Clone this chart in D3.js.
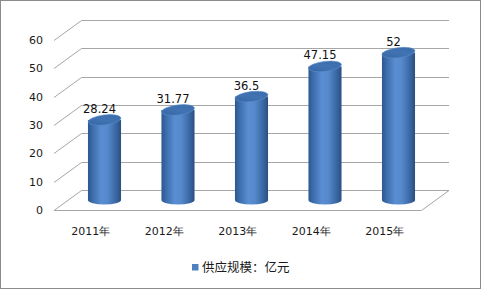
<!DOCTYPE html>
<html><head><meta charset="utf-8">
<script src="https://cdn.jsdelivr.net/npm/d3@7"></script>
<style>html,body{margin:0;padding:0;background:#fff}svg{display:block}</style>
</head><body>
<svg id="c" width="482" height="291"></svg>
<script>
const categories = ["2011年","2012年","2013年","2014年","2015年"];
const values = [28.24, 31.77, 36.5, 47.15, 52];
const valueLabels = ["28.24","31.77","36.5","47.15","52"];
const yTicks = [0,10,20,30,40,50,60];
const seriesName = "供应规模：亿元";

const svg = d3.select("#c");
const font = "'DejaVu Sans', Verdana, sans-serif";
const cjk = "'Noto Sans CJK SC', 'DejaVu Sans', sans-serif";

// frame
svg.append("rect").attr("x",0.5).attr("y",0.5).attr("width",480).attr("height",288)
  .attr("fill","#fff").attr("stroke","#8c8c8c").attr("stroke-width",1);

// 3D geometry: front plane, depth offset
const depth = {dx: 27.5, dy: -20};
const y = d3.scaleLinear().domain([0,60]).range([210, 40]);
const x = d3.scaleBand().domain(categories).range([54, 421.5]).paddingInner(0.55).paddingOuter(0.275);
const xFront = d3.scaleBand().domain(categories).range([54, 421.5]);

const grid = svg.append("g").attr("stroke","#a6a6a6").attr("stroke-width",1).attr("fill","none");
const x0 = 54, x1 = 421.5;
yTicks.forEach(t => {
  const yy = Math.round(y(t)) + 0.5;
  grid.append("line").attr("x1",x0).attr("y1",yy).attr("x2",x0+depth.dx).attr("y2",yy+depth.dy);
  grid.append("line").attr("x1",x0+depth.dx).attr("y1",yy+depth.dy).attr("x2",x1+depth.dx).attr("y2",yy+depth.dy);
});
grid.append("line").attr("x1",x0).attr("y1",Math.round(y(0))+0.5).attr("x2",x1).attr("y2",Math.round(y(0))+0.5);
grid.append("line").attr("x1",x1).attr("y1",Math.round(y(0))+0.5).attr("x2",x1+depth.dx).attr("y2",Math.round(y(0))+0.5+depth.dy);

// y tick labels
svg.append("g").selectAll("text").data(yTicks).join("text")
  .attr("x",43).attr("y",d=>y(d)+4).attr("text-anchor","end")
  .attr("font-family",font).attr("font-size",11).attr("fill","#1a1a1a")
  .text(d=>d);

// gradients
const defs = svg.append("defs");
const g1 = defs.append("linearGradient").attr("id","body").attr("x1","0").attr("x2","1").attr("y1","0").attr("y2","0");
[[0,"#2c5690"],[0.12,"#3a6aa8"],[0.4,"#5a8ed2"],[0.6,"#5589cb"],[0.85,"#3a67a3"],[1,"#2a4f82"]]
  .forEach(([o,c])=>g1.append("stop").attr("offset",o).attr("stop-color",c));
const g2 = defs.append("linearGradient").attr("id","top").attr("x1","0").attr("x2","1").attr("y1","1").attr("y2","0");
[[0,"#3564a0"],[0.5,"#4173b3"],[1,"#3a6aa6"]]
  .forEach(([o,c])=>g2.append("stop").attr("offset",o).attr("stop-color",c));

// bars (cylinders) at mid depth
const mid = {dx: depth.dx/2, dy: depth.dy/2};
const bw = x.bandwidth();
const rx = bw/2, ry = 4.5;
const bars = svg.append("g");
categories.forEach((c,i) => {
  const cx = x(c) + bw/2 + mid.dx;
  const yb = y(0) + mid.dy;
  const yt = y(values[i]) + mid.dy;
  const L = cx - rx, R = cx + rx;
  bars.append("path")
    .attr("d", `M${L},${yt} L${L},${yb} A${rx},${ry} 0 0 0 ${R},${yb} L${R},${yt} Z`)
    .attr("fill","url(#body)");
  bars.append("ellipse").attr("cx",cx).attr("cy",yt).attr("rx",rx).attr("ry",ry+0.5)
    .attr("transform",`rotate(-7 ${cx} ${yt})`)
    .attr("fill","url(#top)").attr("stroke","#5a8ccc").attr("stroke-width",0.6);
  svg.append("text").attr("x",cx-5).attr("y",yt-7).attr("text-anchor","middle")
    .attr("font-family",font).attr("font-size",11.5).attr("fill","#111")
    .text(valueLabels[i]);
});

// category labels (front plane)
svg.append("g").selectAll("text").data(categories).join("text")
  .attr("x",d=>xFront(d)+xFront.bandwidth()/2).attr("y",235).attr("text-anchor","middle")
  .attr("font-family",font).attr("font-size",11).attr("fill","#1a1a1a")
  .text(d=>d);

// legend
svg.append("rect").attr("x",192).attr("y",264).attr("width",6.5).attr("height",6.5).attr("fill","#4f81bd");
svg.append("text").attr("x",202).attr("y",272).attr("font-family",cjk).attr("font-size",12.5).attr("fill","#1a1a1a")
  .text(seriesName);
</script>
</body></html>
